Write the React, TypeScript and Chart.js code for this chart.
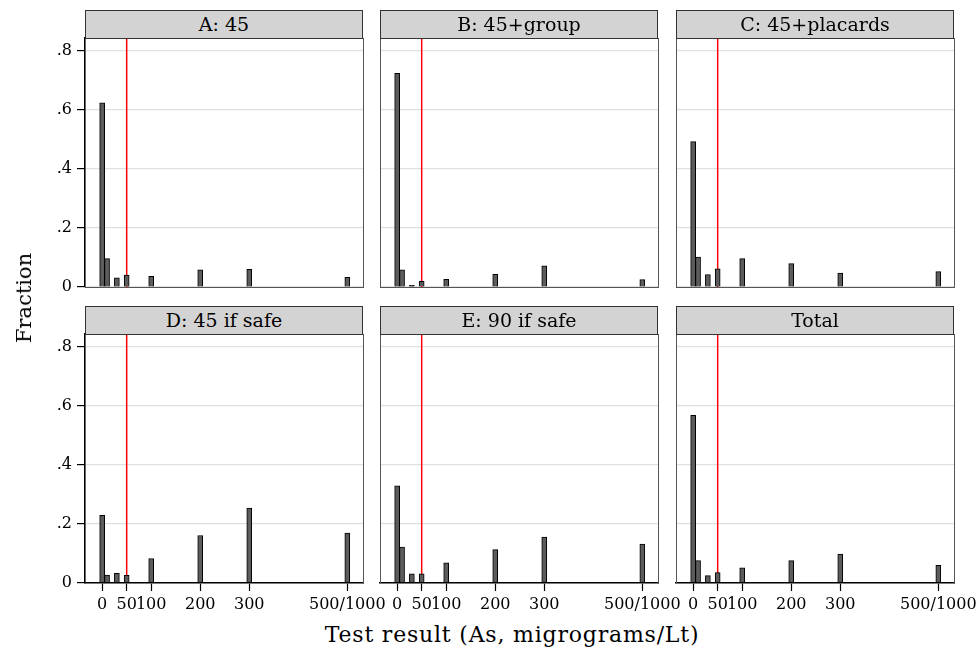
import React, { useEffect, useRef } from 'react';
import { Chart, registerables } from 'chart.js';

Chart.register(...registerables);

// ---- data ----
const BINS = [0, 10, 30, 50, 100, 200, 300, 500];
const PANEL_TITLES = ['A: 45', 'B: 45+group', 'C: 45+placards', 'D: 45 if safe', 'E: 90 if safe', 'Total'];
const FRAC_A = [0.624, 0.096, 0.031, 0.040, 0.036, 0.058, 0.060, 0.033];
const FRAC_B = [0.724, 0.058, 0.006, 0.019, 0.026, 0.043, 0.072, 0.025];
const FRAC_C = [0.493, 0.101, 0.042, 0.062, 0.096, 0.079, 0.047, 0.052];
const FRAC_D = [0.229, 0.027, 0.033, 0.026, 0.083, 0.161, 0.254, 0.169];
const FRAC_E = [0.329, 0.122, 0.031, 0.031, 0.068, 0.113, 0.156, 0.132];
const FRAC_TOTAL = [0.568, 0.076, 0.025, 0.035, 0.051, 0.076, 0.098, 0.060];
const PANEL_VALUES = [FRAC_A, FRAC_B, FRAC_C, FRAC_D, FRAC_E, FRAC_TOTAL];

const X_TICKS = [0, 50, 100, 200, 300, 500];
const X_TICK_LABELS = ['0', '50', '100', '200', '300', '500/1000'];
const Y_TICKS = [0, 0.2, 0.4, 0.6, 0.8];
const Y_TICK_LABELS = ['0', '.2', '.4', '.6', '.8'];
const CUTOFF = 50;
const X_MIN = -35;
const X_MAX = 532;
const Y_MAX = 0.844;

const Y_TITLE = 'Fraction';
const X_TITLE = 'Test result (As, migrograms/Lt)';

// ---- layout ----
const FONT = "'DejaVu Serif', serif";
const COL_LEFT = [85, 380, 676];
const ROW_TOP = [38, 334];
const PLOT_W = 278;
const PLOT_H = 249;
const HEADER_H = 28;

function Panel({ idx }: { idx: number }) {
  const ref = useRef<HTMLCanvasElement>(null);
  const col = idx % 3;
  const row = Math.floor(idx / 3);
  const padL = col === 0 ? 85 : 10;
  const padT = 20;
  const padR = 45;
  const padB = row === 1 ? 30 : 16;
  const w = PLOT_W + padL + padR;
  const h = PLOT_H + padT + padB;
  const values = PANEL_VALUES[idx];

  useEffect(() => {
    const tickFont = { family: FONT, size: 16 };
    const chart = new Chart(ref.current as HTMLCanvasElement, {
      type: 'bar',
      data: {
        datasets: [
          {
            type: 'bar',
            data: BINS.map((b, i) => ({ x: b, y: values[i] })),
            backgroundColor: '#5c5c5c',
            borderColor: '#000000',
            borderWidth: 1,
            barThickness: 5,
            order: 0,
          } as any,
          {
            type: 'line',
            data: [{ x: CUTOFF, y: 0 }, { x: CUTOFF, y: Y_MAX }],
            borderColor: '#ff0000',
            borderWidth: 1.5,
            pointRadius: 0,
            order: 1,
          } as any,
        ],
      },
      options: {
        animation: false,
        responsive: false,
        maintainAspectRatio: false,
        layout: { padding: { left: col === 0 ? 0 : padL, top: padT, right: padR, bottom: row === 1 ? 0 : padB } },
        plugins: { legend: { display: false }, tooltip: { enabled: false }, title: { display: false } },
        scales: {
          x: {
            type: 'linear',
            position: 'bottom',
            offset: false,
            min: X_MIN,
            max: X_MAX,
            afterBuildTicks: (s: any) => { s.ticks = X_TICKS.map((v) => ({ value: v })); },
            afterFit: (s: any) => { s.height = row === 1 ? 30 : 0; },
            ticks: {
              display: row === 1,
              autoSkip: false,
              maxRotation: 0,
              minRotation: 0,
              padding: 4,
              color: '#000',
              font: tickFont,
              callback: (_v: any, i: number) => X_TICK_LABELS[i],
            },
            grid: { display: row === 1, offset: false, drawOnChartArea: false, drawTicks: true, tickLength: 8, tickColor: '#000', tickWidth: 1.2 },
            border: { display: true, color: row === 1 ? '#000' : '#555', width: row === 1 ? 1.6 : 1, z: 1 },
          },
          y: {
            type: 'linear',
            position: 'left',
            min: 0,
            max: Y_MAX,
            afterBuildTicks: (s: any) => { s.ticks = Y_TICKS.map((v) => ({ value: v })); },
            afterFit: (s: any) => { s.width = col === 0 ? 85 : 0; },
            ticks: {
              display: col === 0,
              padding: 5,
              color: '#000',
              font: tickFont,
              callback: (_v: any, i: number) => Y_TICK_LABELS[i],
            },
            grid: { display: true, color: '#e0e0e0', lineWidth: 1.2, drawTicks: col === 0, tickLength: 8, tickColor: '#000', tickWidth: 1.2 },
            border: { display: true, color: col === 0 ? '#000' : '#555', width: col === 0 ? 1.6 : 1, z: 1 },
          },
          xTop: {
            type: 'linear',
            position: 'top',
            afterFit: (s: any) => { s.height = 0; },
            ticks: { display: false },
            grid: { display: false },
            border: { display: true, color: '#555', width: 1, z: 1 },
          },
          yRight: {
            type: 'linear',
            position: 'right',
            afterFit: (s: any) => { s.width = 0; },
            ticks: { display: false },
            grid: { display: false },
            border: { display: true, color: '#555', width: 1, z: 1 },
          },
        },
      } as any,
    });
    return () => chart.destroy();
  }, []);

  return (
    <>
      <canvas
        ref={ref}
        width={w}
        height={h}
        style={{ position: 'absolute', left: COL_LEFT[col] - padL, top: ROW_TOP[row] - padT, width: w, height: h, display: 'block' }}
      />
      <div
        style={{
          position: 'absolute',
          left: COL_LEFT[col],
          top: ROW_TOP[row] - HEADER_H,
          width: PLOT_W,
          height: HEADER_H + 1,
          boxSizing: 'border-box',
          border: '1.5px solid #333',
          background: '#d3d3d3',
          fontFamily: FONT,
          fontSize: 19,
          lineHeight: `${HEADER_H - 2}px`,
          textAlign: 'center',
          color: '#000',
          zIndex: 2,
        }}
      >
        {PANEL_TITLES[idx]}
      </div>
    </>
  );
}

export default function App() {
  return (
    <div style={{ position: 'absolute', left: 0, top: 0, width: 977, height: 651, background: '#fff', overflow: 'hidden' }}>
      {PANEL_TITLES.map((_, i) => (
        <Panel key={i} idx={i} />
      ))}
      <div
        style={{
          position: 'absolute',
          left: 24,
          top: 298,
          transform: 'translate(-50%, -50%) rotate(-90deg)',
          fontFamily: FONT,
          fontSize: 21,
          whiteSpace: 'nowrap',
          color: '#000',
        }}
      >
        {Y_TITLE}
      </div>
      <div
        style={{
          position: 'absolute',
          left: 512,
          top: 634,
          transform: 'translate(-50%, -50%)',
          fontFamily: FONT,
          fontSize: 22,
          letterSpacing: '0.8px',
          whiteSpace: 'nowrap',
          color: '#000',
        }}
      >
        {X_TITLE}
      </div>
    </div>
  );
}
